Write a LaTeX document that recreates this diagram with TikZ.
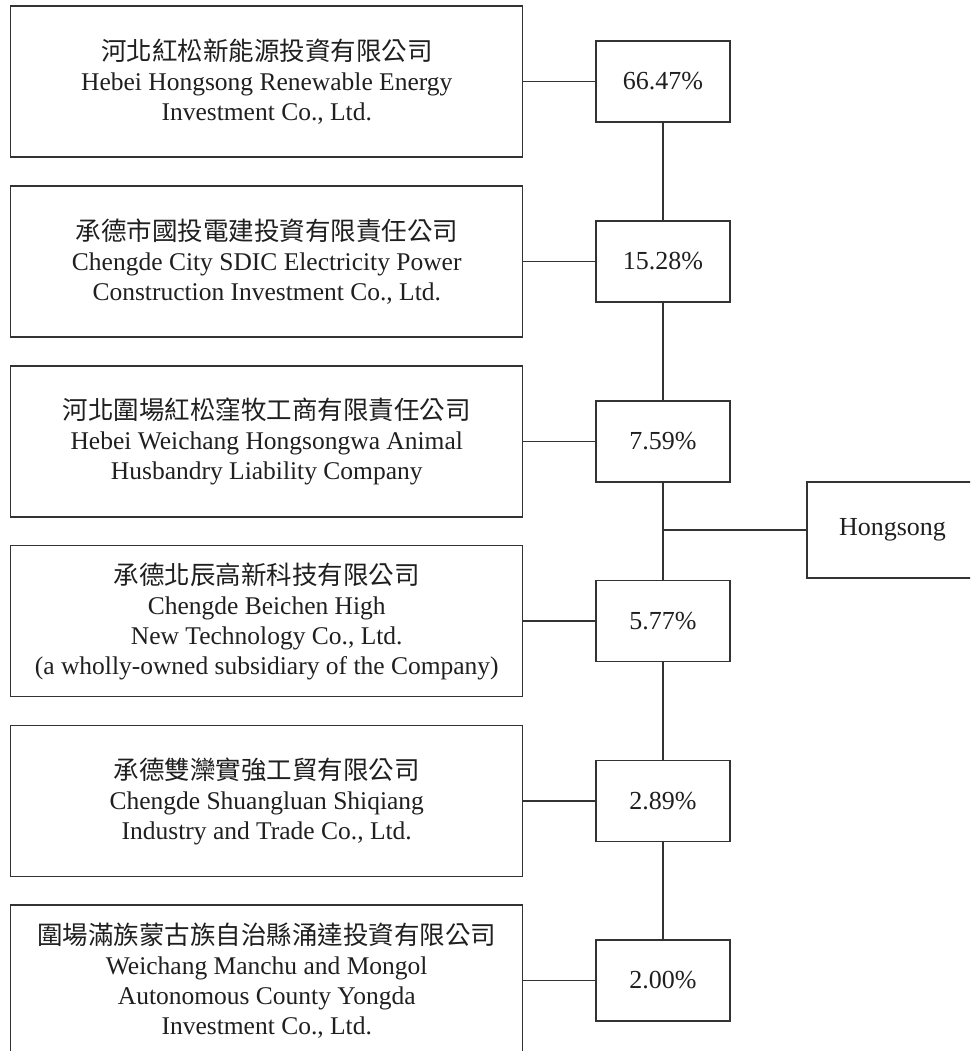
\documentclass[tikz,border=0pt]{standalone}
\usepackage{fontspec}
\setmainfont{Liberation Serif}
\newfontfamily\cjk{Noto Sans CJK TC}
\begin{document}
\begin{tikzpicture}[x=1pt,y=-1pt,
  ln/.style={line width=1.2pt, draw=black!80},
  owner/.style={ln, rectangle, minimum width=512pt, minimum height=151pt, inner sep=0pt, align=center, text=black!88, font=\fontsize{25.5}{30}\selectfont},
  pct/.style={ln, rectangle, minimum width=134pt, minimum height=81pt, inner sep=0pt, text=black!88, font=\fontsize{26}{30}\selectfont},
  lnk/.style={ln}]
\useasboundingbox (0,0) rectangle (970,1051);
\clip (0,0) rectangle (970,1051);
\node[owner] (b1) at (266.75,81.5) {{\cjk 河北紅松新能源投資有限公司}\\Hebei Hongsong Renewable Energy\\Investment Co., Ltd.};
\node[owner] (b2) at (266.75,261.5) {{\cjk 承德市國投電建投資有限責任公司}\\Chengde City SDIC Electricity Power\\Construction Investment Co., Ltd.};
\node[owner] (b3) at (266.75,441.5) {{\cjk 河北圍場紅松窪牧工商有限責任公司}\\Hebei Weichang Hongsongwa Animal\\Husbandry Liability Company};
\node[owner] (b4) at (266.75,621) {{\cjk 承德北辰高新科技有限公司}\\Chengde Beichen High\\New Technology Co., Ltd.\\(a wholly-owned subsidiary of the Company)};
\node[owner] (b5) at (266.75,801) {{\cjk 承德雙灤實強工貿有限公司}\\Chengde Shuangluan Shiqiang\\Industry and Trade Co., Ltd.};
\node[owner] (b6) at (266.75,980.5) {{\cjk 圍場滿族蒙古族自治縣涌達投資有限公司}\\Weichang Manchu and Mongol\\Autonomous County Yongda\\Investment Co., Ltd.};
\node[pct] (p1) at (663,81.5) {66.47\%};
\node[pct] (p2) at (663,261.5) {15.28\%};
\node[pct] (p3) at (663,441.5) {7.59\%};
\node[pct] (p4) at (663,621) {5.77\%};
\node[pct] (p5) at (663,801) {2.89\%};
\node[pct] (p6) at (663,980.5) {2.00\%};
\node[pct, minimum width=171pt, minimum height=96pt] (hong) at (892.5,530) {Hongsong};
\coordinate (j) at (663,530);
\foreach \i in {1,...,6} { \draw[lnk] (b\i.east) -- (p\i.west); }
\draw[lnk] (p1.south) -- (p2.north);
\draw[lnk] (p2.south) -- (p3.north);
\draw[lnk] (p3.south) -- (p4.north);
\draw[lnk] (p4.south) -- (p5.north);
\draw[lnk] (p5.south) -- (p6.north);
\draw[lnk] (j) -- (hong.west);
\end{tikzpicture}
\end{document}
